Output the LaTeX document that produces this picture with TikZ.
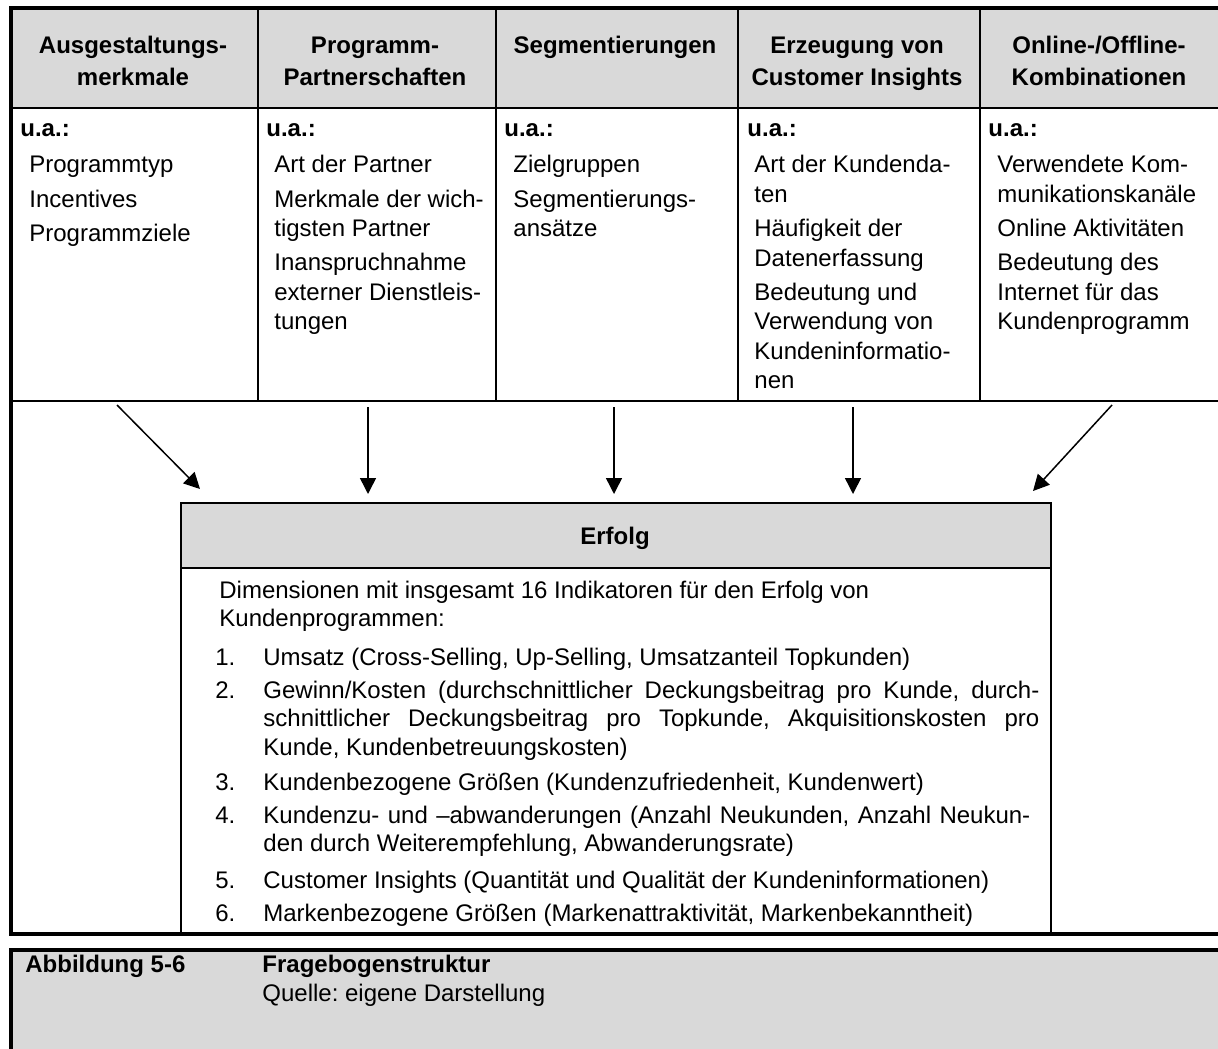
\documentclass[tikz,border=0pt]{standalone}
\usepackage{fontspec}
\setmainfont{Liberation Sans}
\usetikzlibrary{arrows.meta}
\definecolor{cellgray}{RGB}{217,217,217}
\frenchspacing
\begin{document}
\begin{tikzpicture}[x=0.5pt,y=-0.5pt,
  framerule/.style={line width=2pt},
  headcell/.style={draw, line width=1pt, fill=cellgray, anchor=north west, inner sep=0pt},
  bodycell/.style={draw, line width=1pt, anchor=north west, inner sep=0pt},
  txt/.style={anchor=base west, inner sep=0pt, font=\fontsize{12}{14}\selectfont},
  btxt/.style={anchor=base west, inner sep=0pt, font=\fontsize{12}{14}\selectfont\bfseries},
  htxt/.style={anchor=base, inner sep=0pt, font=\fontsize{12}{14}\selectfont\bfseries},
  flow/.style={line width=0.75pt, -{Triangle[length=8pt,width=8pt]}},
]
\useasboundingbox (0,0) rectangle (1218,1048);

% ---- table: header row and body row ----
\node[headcell, minimum width=123pt, minimum height=49.5pt] (hc1) at (11,8) {};
\node[headcell, minimum width=119pt, minimum height=49.5pt] (hc2) at (257,8) {};
\node[headcell, minimum width=121pt, minimum height=49.5pt] (hc3) at (495,8) {};
\node[headcell, minimum width=121pt, minimum height=49.5pt] (hc4) at (737,8) {};
\node[headcell, minimum width=121.5pt, minimum height=49.5pt] (hc5) at (979,8) {};
\node[bodycell, minimum width=123pt, minimum height=146.5pt] (bc1) at (11,107) {};
\node[bodycell, minimum width=119pt, minimum height=146.5pt] (bc2) at (257,107) {};
\node[bodycell, minimum width=121pt, minimum height=146.5pt] (bc3) at (495,107) {};
\node[bodycell, minimum width=121pt, minimum height=146.5pt] (bc4) at (737,107) {};
\node[bodycell, minimum width=121.5pt, minimum height=146.5pt] (bc5) at (979,107) {};

% ---- result box ----
\node[headcell, minimum width=435pt, minimum height=32.5pt] (eh) at (180,502) {};
\node[bodycell, minimum width=435pt, minimum height=183.5pt] (eb) at (180,567) {};

% ---- outer frame ----
\draw[framerule] (1224,8) -- (11,8) -- (11,934) -- (1224,934);

% ---- caption panel ----
\fill[cellgray] (11,950) rectangle (1230,1060);
\draw[framerule] (11,1060) -- (11,950) -- (1230,950);

% ---- header labels ----
\node[htxt] (h1a) at (133,54) {Ausgestaltungs-};
\node[htxt] (h1b) at (133,86) {merkmale};
\node[htxt] (h2a) at (375,54) {Programm-};
\node[htxt] (h2b) at (375,86) {Partnerschaften};
\node[htxt] (h3a) at (615,54) {Segmentierungen};
\node[htxt] (h4a) at (857,54) {Erzeugung von};
\node[htxt] (h4b) at (857,86) {Customer Insights};
\node[htxt] (h5a) at (1099,54) {Online-/Offline-};
\node[htxt] (h5b) at (1099,86) {Kombinationen};

% ---- column 1 ----
\node[btxt] (c1u) at (20,137) {u.a.:};
\node[txt] (c1a) at (29,173) {Programmtyp};
\node[txt] (c1b) at (29,207) {Incentives};
\node[txt] (c1c) at (29,241) {Programmziele};

% ---- column 2 ----
\node[btxt] (c2u) at (266,137) {u.a.:};
\node[txt] (c2a) at (274,173) {Art der Partner};
\node[txt] (c2b) at (274,207) {Merkmale der wich-};
\node[txt] (c2c) at (274,236.5) {tigsten Partner};
\node[txt] (c2d) at (274,270.5) {Inanspruchnahme};
\node[txt] (c2e) at (274,300) {externer Dienstleis-};
\node[txt] (c2f) at (274,329.5) {tungen};

% ---- column 3 ----
\node[btxt] (c3u) at (504,137) {u.a.:};
\node[txt] (c3a) at (513,173) {Zielgruppen};
\node[txt] (c3b) at (513,207) {Segmentierungs-};
\node[txt] (c3c) at (513,236.5) {ansätze};

% ---- column 4 ----
\node[btxt] (c4u) at (747,137) {u.a.:};
\node[txt] (c4a) at (754,173) {Art der Kundenda-};
\node[txt] (c4b) at (754,202.5) {ten};
\node[txt] (c4c) at (754,236.5) {Häufigkeit der};
\node[txt] (c4d) at (754,266) {Datenerfassung};
\node[txt] (c4e) at (754,300) {Bedeutung und};
\node[txt] (c4f) at (754,329.5) {Verwendung von};
\node[txt] (c4g) at (754,359) {Kundeninformatio-};
\node[txt] (c4h) at (754,388.5) {nen};

% ---- column 5 ----
\node[btxt] (c5u) at (988,137) {u.a.:};
\node[txt] (c5a) at (997,173) {Verwendete Kom-};
\node[txt] (c5b) at (997,202.5) {munikationskanäle};
\node[txt] (c5c) at (997,236.5) {Online Aktivitäten};
\node[txt] (c5d) at (997,270.5) {Bedeutung des};
\node[txt] (c5e) at (997,300) {Internet für das};
\node[txt] (c5f) at (997,329.5) {Kundenprogramm};

% ---- result box text ----
\node[htxt] (etitle) at (615,544) {Erfolg};
\node[txt] (ed1) at (219,598) {Dimensionen mit insgesamt 16 Indikatoren für den Erfolg von};
\node[txt] (ed2) at (219,626) {Kundenprogrammen:};
\node[txt] (n1) at (215,665) {1.};
\node[txt] (i1) at (263,665) {Umsatz (Cross-Selling, Up-Selling, Umsatzanteil Topkunden)};
\node[txt] (n2) at (215,698) {2.};
\node[txt] (i2a) at (263,698) {\makebox[388pt][s]{Gewinn/Kosten (durchschnittlicher Deckungsbeitrag pro Kunde, durch-}};
\node[txt] (i2b) at (263,726.5) {\makebox[388pt][s]{schnittlicher Deckungsbeitrag pro Topkunde, Akquisitionskosten pro}};
\node[txt] (i2c) at (263,755) {Kunde, Kundenbetreuungskosten)};
\node[txt] (n3) at (215,790) {3.};
\node[txt] (i3) at (263,790) {Kundenbezogene Größen (Kundenzufriedenheit, Kundenwert)};
\node[txt] (n4) at (215,823) {4.};
\node[txt] (i4a) at (263,823) {\makebox[383.5pt][s]{Kundenzu- und –abwanderungen (Anzahl Neukunden, Anzahl Neukun-}};
\node[txt] (i4b) at (263,851.5) {den durch Weiterempfehlung, Abwanderungsrate)};
\node[txt] (n5) at (215,888) {5.};
\node[txt] (i5) at (263,888) {Customer Insights (Quantität und Qualität der Kundeninformationen)};
\node[txt] (n6) at (215,921) {6.};
\node[txt] (i6) at (263,921) {Markenbezogene Größen (Markenattraktivität, Markenbekanntheit)};

% ---- influence arrows ----
\coordinate (s1) at (117,405);  \coordinate (t1) at (200,489);
\coordinate (s2) at (368,407);  \coordinate (t2) at (368,494);
\coordinate (s3) at (614,407);  \coordinate (t3) at (614,494);
\coordinate (s4) at (853,407);  \coordinate (t4) at (853,494);
\coordinate (s5) at (1112,405); \coordinate (t5) at (1033,491);
\foreach \k in {1,...,5} \draw[flow] (s\k) -- (t\k);

% ---- caption ----
\node[btxt] (capno) at (25,972) {Abbildung 5-6};
\node[btxt] (captitle) at (262,972) {Fragebogenstruktur};
\node[txt] (capsrc) at (262,1001) {Quelle: eigene Darstellung};
\end{tikzpicture}
\end{document}
